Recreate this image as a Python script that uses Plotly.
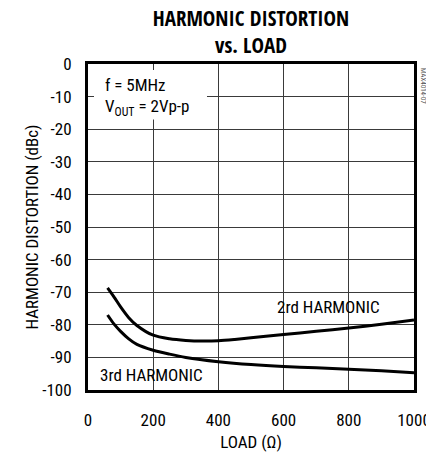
import plotly.graph_objects as go

# Harmonic distortion vs. load, f = 5MHz, VOUT = 2Vp-p
load_2nd = [60, 80, 100, 125, 150, 200, 250, 300, 350, 400, 450, 500, 600, 700, 800, 900, 1000]
hd_2nd = [-68.7, -71.5, -74.5, -77.8, -80.2, -83.2, -84.3, -84.8, -85.0, -84.9, -84.5, -84.0,
          -83.0, -82.0, -81.0, -79.8, -78.5]

load_3rd = [60, 80, 100, 125, 150, 200, 250, 300, 400, 500, 600, 700, 800, 900, 1000]
hd_3rd = [-77.0, -79.8, -82.0, -84.3, -86.0, -87.8, -89.0, -90.0, -91.3, -92.2, -92.8,
          -93.2, -93.6, -94.1, -94.7]

x_ticks = [0, 200, 400, 600, 800, 1000]
y_ticks = [0, -10, -20, -30, -40, -50, -60, -70, -80, -90, -100]

FONT = "Roboto Condensed, Liberation Sans, sans-serif"
TITLE_FONT = "Open Sans Condensed, Roboto Condensed, sans-serif"

fig = go.Figure()
for xs, ys in [(load_2nd, hd_2nd), (load_3rd, hd_3rd)]:
    fig.add_trace(go.Scatter(
        x=xs, y=ys, mode="lines",
        line=dict(color="black", width=3, shape="spline", smoothing=0.8),
        showlegend=False, hoverinfo="skip",
    ))

axis_common = dict(
    showline=True, mirror="ticks", linecolor="black", linewidth=3,
    showgrid=True, gridcolor="#3a3a3a", gridwidth=1.4,
    ticks="inside", ticklen=6, tickwidth=1.4, tickcolor="#3a3a3a",
    zeroline=False, ticklabeloverflow="allow", automargin=False,
    tickfont=dict(family=FONT, size=17, color="black"),
)

fig.update_xaxes(
    range=[0, 1000], tickvals=x_ticks, ticktext=[str(v) for v in x_ticks],
    title=dict(text="LOAD (Ω)", font=dict(family=FONT, size=17, color="black"), standoff=10),
    ticklabelstandoff=13,
    **axis_common,
)
fig.update_yaxes(
    range=[-100, 0], tickvals=y_ticks, ticktext=[str(v) for v in y_ticks],
    title=dict(text="HARMONIC DISTORTION (dBc)", font=dict(family=FONT, size=17, color="black"), standoff=0),
    ticklabelstandoff=10,
    **axis_common,
)

# white panel behind the condition text
fig.add_shape(type="rect", xref="x", yref="y", x0=0, x1=365, y0=0, y1=-17,
              fillcolor="white", line=dict(width=0), layer="between")

annotations = [
    dict(text="f = 5MHz", x=46, y=-6.4, xanchor="left", yanchor="middle"),
    dict(text="V<sub>OUT</sub> = 2Vp-p", x=46, y=-13.2, xanchor="left", yanchor="middle"),
    dict(text="2rd HARMONIC", x=738, y=-74.5, xanchor="center", yanchor="middle"),
    dict(text="3rd HARMONIC", x=194, y=-95.4, xanchor="center", yanchor="middle"),
]
for a in annotations:
    fig.add_annotation(xref="x", yref="y", showarrow=False,
                       font=dict(family=FONT, size=17, color="black"), **a)

fig.add_annotation(text="MAX4014-07", xref="paper", yref="paper", x=1.0, y=1.0,
                   xanchor="left", yanchor="top", xshift=3, yshift=-2, textangle=90,
                   showarrow=False, font=dict(family=FONT, size=7, color="#555"))

fig.update_layout(
    width=426, height=452,
    margin=dict(l=88, r=12, t=64, b=62, autoexpand=False),
    paper_bgcolor="white", plot_bgcolor="white",
    title=dict(
        text="<b>HARMONIC DISTORTION<br>vs. LOAD</b>",
        font=dict(family=TITLE_FONT, size=21, color="black"),
        x=0.5, xref="paper", xanchor="center",
        y=1 - 25.5 / 452, yref="container", yanchor="middle",
    ),
)

fig.write_html("out.html")
